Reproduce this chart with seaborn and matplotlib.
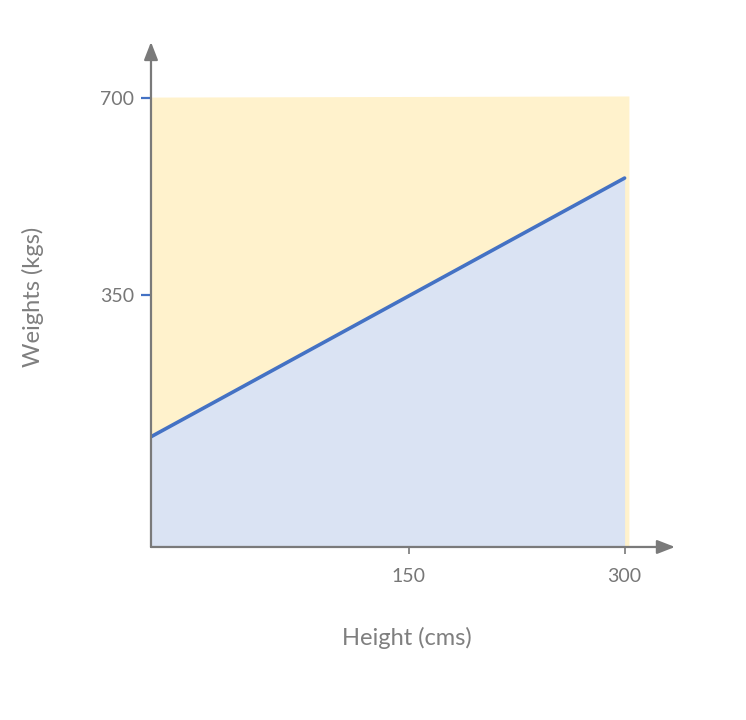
import matplotlib
matplotlib.use("Agg")
import matplotlib.pyplot as plt
import seaborn as sns
import pandas as pd

# Data
heights = [-29, 300]          # cms (line runs from the y-axis to 300)
weights = [98, 558]           # kgs
x_ticks = [150, 300]
y_ticks = [350, 700]
upper_band = 702              # top of the shaded region
lower_band = -98              # bottom of the axes

df = pd.DataFrame({"Height (cms)": heights, "Weights (kgs)": weights})

sns.set_theme(style="white")
plt.rcParams["font.family"] = ["Lato", "DejaVu Sans"]

fig = plt.figure(figsize=(7.46, 7.2), dpi=100)
ax = fig.add_axes([0.2024, 0.2403, 0.7024, 0.7014])

yellow = "#FFF2CC"
blue_fill = "#DAE3F3"
line_c = "#4472C4"
gray = "#7F7F7F"

ax.fill_between([heights[0], heights[1] + 3], [upper_band, upper_band + 2],
                lower_band, color=yellow, lw=0, zorder=0)
ax.fill_between(heights, weights, lower_band, color=blue_fill, lw=0, zorder=1)
sns.lineplot(data=df, x="Height (cms)", y="Weights (kgs)", ax=ax,
             color=line_c, lw=2.6, zorder=3)

ax.set_xlim(-29, 335)
ax.set_ylim(lower_band, 800)

for s in ax.spines.values():
    s.set_visible(False)

# axes with arrows
ax.annotate("", xy=(1, 0), xytext=(0, 0), xycoords="axes fraction",
            arrowprops=dict(arrowstyle="-|>,head_length=0.9,head_width=0.35",
                            color="#7A7A7A", lw=1.6, shrinkA=0, shrinkB=0))
ax.annotate("", xy=(0, 1), xytext=(0, 0), xycoords="axes fraction",
            arrowprops=dict(arrowstyle="-|>,head_length=0.9,head_width=0.35",
                            color="#7A7A7A", lw=1.6, shrinkA=0, shrinkB=0))

ax.set_xticks(x_ticks)
ax.set_xticklabels([str(v) for v in x_ticks])
ax.set_yticks(y_ticks)
ax.set_yticklabels([str(v) for v in y_ticks])
ax.tick_params(axis="x", direction="out", length=5, width=1.4, color="#8C8C8C",
               labelcolor="#777777", labelsize=14, pad=10, bottom=True)
ax.tick_params(axis="y", direction="out", length=7, width=1.6, color=line_c,
               labelcolor="#777777", labelsize=14, pad=5, left=True)
ax.set_xlabel("")
ax.set_ylabel("")

fig.text(407 / 746, 1 - 638 / 720, "Height (cms)", ha="center", va="center",
         fontsize=17, color=gray)
fig.text(33 / 746, 1 - 297 / 720, "Weights (kgs)", ha="center", va="center",
         fontsize=17, color=gray, rotation=90)

fig.savefig("out.png", dpi=100)
